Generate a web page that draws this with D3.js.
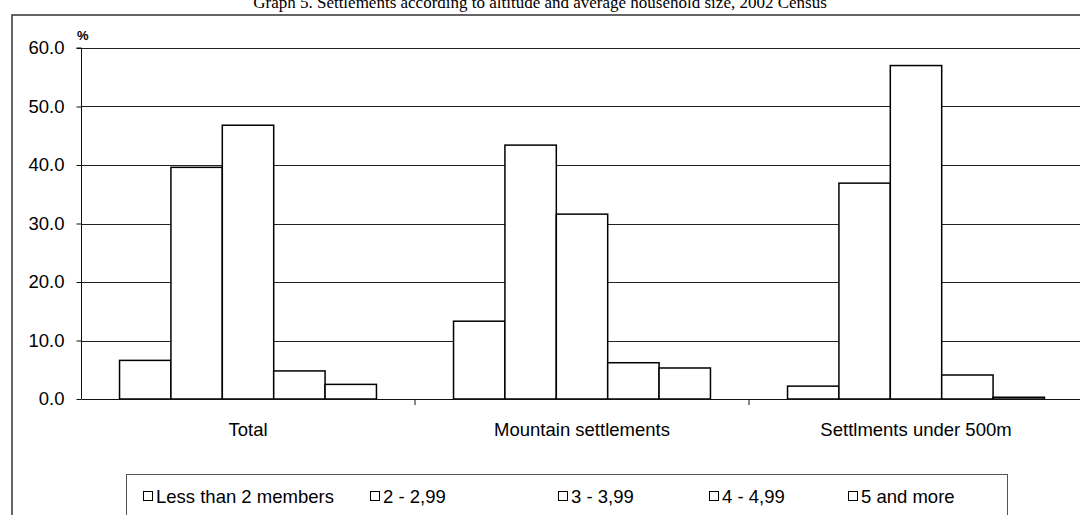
<!DOCTYPE html>
<html><head><meta charset="utf-8">
<script src="https://cdn.jsdelivr.net/npm/d3@7"></script>
<style>html,body{margin:0;padding:0;background:#fff;overflow:hidden}</style>
</head><body>
<script>
const titleText = "Graph 5. Settlements according to altitude and average household size, 2002 Census";
const categories = ["Total", "Mountain settlements", "Settlments under 500m"];
const seriesNames = ["Less than 2 members", "2 - 2,99", "3 - 3,99", "4 - 4,99", "5 and more"];
const lessThan2 = [6.6, 13.3, 2.2];
const from2to299 = [39.6, 43.4, 36.9];
const from3to399 = [46.8, 31.6, 57.0];
const from4to499 = [4.8, 6.2, 4.1];
const fiveAndMore = [2.5, 5.3, 0.3];
const yTicks = [0, 10, 20, 30, 40, 50, 60];

const seriesValues = [lessThan2, from2to299, from3to399, from4to499, fiveAndMore];

const W = 1080, H = 515;
const svg = d3.select("body").append("svg").attr("width", W).attr("height", H);
const font = "Liberation Sans, Arial, sans-serif";
const fs = 18.5;

// title (clipped at top, as in the source image)
svg.append("text").attr("x", 540).attr("y", 8).attr("text-anchor", "middle")
  .attr("font-family", "Liberation Serif, Times New Roman, serif").attr("font-size", 17)
  .text(titleText);

// outer border
svg.append("rect").attr("x", 12).attr("y", 15).attr("width", 1200).attr("height", 600)
  .attr("fill", "none").attr("stroke", "#333").attr("stroke-width", 1.5);

const x0 = d3.scaleBand().domain(categories).range([81, 1083]).padding(0);
const x1 = d3.scaleBand().domain(seriesNames).range([0, x0.bandwidth()]).paddingInner(0).paddingOuter(0.75);
const y = d3.scaleLinear().domain([0, 60]).range([399, 48]);

// gridlines
svg.append("g").selectAll("line").data(yTicks.filter(d => d > 0)).join("line")
  .attr("x1", 81).attr("x2", 1083).attr("y1", d => Math.round(y(d)) + 0.5).attr("y2", d => Math.round(y(d)) + 0.5)
  .attr("stroke", "#222").attr("stroke-width", 1);

// y axis
const yAxis = d3.axisLeft(y).tickValues(yTicks).tickFormat(d3.format(".1f")).tickSize(5).tickPadding(12);
const gy = svg.append("g").attr("transform", "translate(81.5,0)").call(yAxis);
gy.select(".domain").attr("d", `M-5,${y(60)}H0V${y(0)}`).attr("stroke", "#111");
gy.selectAll(".tick line").attr("stroke", "#111");
gy.selectAll("text").attr("font-family", font).attr("font-size", fs).attr("fill", "#000");

// % label
svg.append("text").attr("x", 77).attr("y", 40).attr("font-family", font).attr("font-size", 13)
  .attr("font-weight", "bold").text("%");

// bars
const groups = svg.append("g").selectAll("g").data(categories).join("g")
  .attr("transform", d => `translate(${x0(d)},0)`);
groups.selectAll("rect").data((c, ci) => seriesNames.map((s, si) => ({s, v: seriesValues[si][ci]}))).join("rect")
  .attr("x", d => x1(d.s)).attr("width", x1.bandwidth())
  .attr("y", d => y(d.v)).attr("height", d => y(0) - y(d.v))
  .attr("fill", "#fff").attr("stroke", "#000").attr("stroke-width", 1.5);

// x axis
const xAxis = d3.axisBottom(x0).tickSize(0).tickPadding(24);
const gx = svg.append("g").attr("transform", `translate(0,${y(0)})`).call(xAxis);
gx.select(".domain").attr("stroke", "#111");
gx.selectAll("text").attr("font-family", font).attr("font-size", fs).attr("fill", "#000");
gx.append("g").selectAll("line").data(categories.slice(1)).join("line")
  .attr("x1", d => x0(d)).attr("x2", d => x0(d)).attr("y1", 0).attr("y2", 6).attr("stroke", "#111");

// legend
svg.append("rect").attr("x", 126.5).attr("y", 474.5).attr("width", 881).attr("height", 80)
  .attr("fill", "#fff").attr("stroke", "#555").attr("stroke-width", 1);
const legendX = [143, 370, 558, 709, 848];
const lg = svg.append("g").selectAll("g").data(seriesNames).join("g")
  .attr("transform", (d, i) => `translate(${legendX[i]},0)`);
lg.append("rect").attr("x", 0.5).attr("y", 491.5).attr("width", 9).attr("height", 9)
  .attr("fill", "#fff").attr("stroke", "#000").attr("stroke-width", 1);
lg.append("text").attr("x", 13).attr("y", 503).attr("font-family", font).attr("font-size", fs)
  .text(d => d);
</script>
</body></html>
